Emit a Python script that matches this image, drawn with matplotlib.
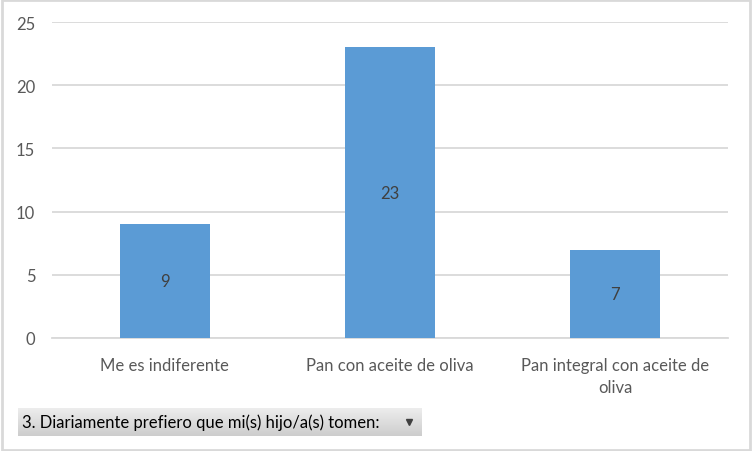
import matplotlib.pyplot as plt
from matplotlib.patches import Rectangle
from matplotlib.colors import LinearSegmentedColormap
import numpy as np

categories = ["Me es indiferente", "Pan con aceite de oliva", "Pan integral con aceite de\noliva"]
values = [9, 23, 7]
yticks = [0, 5, 10, 15, 20, 25]
filter_label = "3. Diariamente prefiero que mi(s) hijo/a(s) tomen:"

plt.rcParams['font.family'] = ['Lato', 'DejaVu Sans']
text_color = "#595959"

fig = plt.figure(figsize=(7.52, 4.52), dpi=100)
ax = fig.add_axes([52 / 752, 1 - 339 / 452, 676 / 752, 316 / 452])

x = np.arange(len(categories))
bars = ax.bar(x, values, width=0.4, color="#5B9BD5", zorder=3)
for b, v in zip(bars, values):
    ax.text(b.get_x() + b.get_width() / 2, v / 2, str(v), ha='center', va='center',
            fontsize=12, color="#404040", zorder=4)

ax.set_xlim(-0.5, 2.5)
ax.set_ylim(0, 25)
ax.set_yticks(yticks)
ax.set_yticklabels([str(t) for t in yticks], fontsize=12, color=text_color)
ax.set_xticks(x)
ax.set_xticklabels(categories, fontsize=12, color=text_color, linespacing=1.45)
ax.tick_params(axis='both', length=0)
ax.tick_params(axis='y', pad=12)
ax.tick_params(axis='x', pad=14)
ax.grid(axis='y', color="#D9D9D9", linewidth=1.3, zorder=0)
for s in ['top', 'right', 'left']:
    ax.spines[s].set_visible(False)
ax.spines['bottom'].set_color("#D9D9D9")
ax.spines['bottom'].set_linewidth(1.3)

# filter button with vertical gradient
bx0, by0, bw, bh = 18 / 752, 1 - 437 / 452, 404 / 752, 28 / 452
cmap = LinearSegmentedColormap.from_list("btn", ["#CDCDCD", "#EDEDED"])
grad = np.linspace(0, 1, 50).reshape(-1, 1)
bax = fig.add_axes([bx0, by0, bw, bh])
bax.imshow(grad, aspect='auto', cmap=cmap, extent=[0, 1, 0, 1], origin='lower')
bax.set_xlim(0, 1)
bax.set_ylim(0, 1)
bax.axis('off')
bax.text(0.01, 0.5, filter_label, ha='left', va='center', fontsize=12, color="#000000")
bax.plot([0.968], [0.5], marker='v', markersize=4, color="#404040")

# outer border
fig.patches.append(Rectangle((0.002, 0.003), 0.996, 0.994, transform=fig.transFigure,
                             fill=False, edgecolor="#D9D9D9", linewidth=2))

fig.savefig("out.png", dpi=100)
